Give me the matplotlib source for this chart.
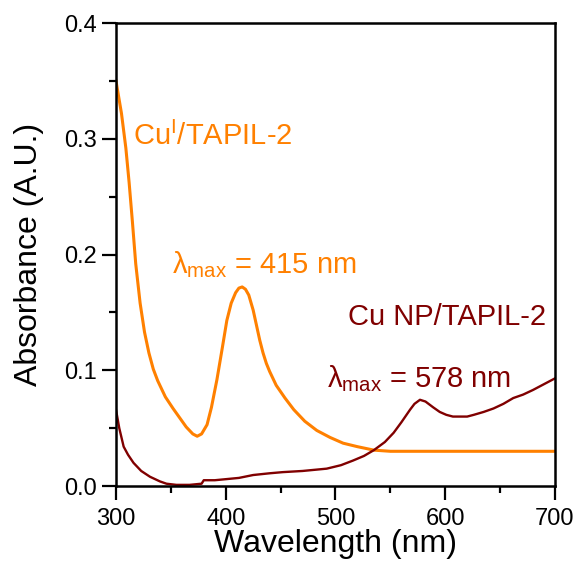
import matplotlib.pyplot as plt
from matplotlib.ticker import MultipleLocator

plt.rcParams['font.family'] = ['Liberation Sans', 'DejaVu Sans']
plt.rcParams['mathtext.fontset'] = 'custom'
plt.rcParams['mathtext.rm'] = 'Liberation Sans'

# Cu(I)/TAPIL-2 spectrum (orange)
wl_cu1 = [300, 305, 309, 312, 315, 318, 322, 326, 330, 334, 338, 345, 352, 358,
          364, 370, 374, 378, 383, 387, 392, 397, 401, 405, 409, 412, 415, 418,
          421, 425, 428, 431, 434, 437, 440, 446, 454, 462, 472, 483, 495, 507,
          520, 535, 550, 600, 650, 700]
abs_cu1 = [0.350, 0.322, 0.292, 0.262, 0.228, 0.192, 0.158, 0.133, 0.115, 0.101,
           0.091, 0.077, 0.067, 0.059, 0.051, 0.045, 0.043, 0.045, 0.053, 0.068,
           0.092, 0.120, 0.143, 0.158, 0.167, 0.171, 0.172, 0.170, 0.165, 0.152,
           0.139, 0.126, 0.115, 0.106, 0.099, 0.087, 0.076, 0.066, 0.056, 0.048,
           0.042, 0.037, 0.034, 0.031, 0.030, 0.030, 0.030, 0.030]

# Cu NP/TAPIL-2 spectrum (dark red)
wl_np = [300, 303, 307, 311, 316, 323, 331, 340, 346, 355, 367, 378, 380, 390,
         401, 412, 425, 440, 452, 470, 492, 505, 516, 526, 535, 545, 553, 560,
         568, 572, 577, 582, 589, 595, 601, 607, 613, 620, 626, 635, 644, 653,
         662, 671, 680, 690, 700]
abs_np = [0.066, 0.050, 0.034, 0.027, 0.020, 0.013, 0.008, 0.004, 0.002, 0.001,
          0.001, 0.002, 0.005, 0.005, 0.006, 0.007, 0.0095, 0.011, 0.012, 0.013,
          0.015, 0.018, 0.022, 0.026, 0.031, 0.038, 0.046, 0.055, 0.066, 0.071,
          0.0745, 0.073, 0.068, 0.064, 0.0615, 0.060, 0.060, 0.060, 0.0615, 0.064,
          0.067, 0.071, 0.076, 0.079, 0.083, 0.088, 0.093]

orange = '#ff8000'
maroon = '#800000'

fig = plt.figure(figsize=(5.79, 5.62), dpi=100)
ax = fig.add_axes([0.2003, 0.1352, 0.7582, 0.8238])

ax.plot(wl_cu1, abs_cu1, color=orange, lw=2.2)
ax.plot(wl_np, abs_np, color=maroon, lw=1.7)

ax.set_xlim(300, 700)
ax.set_ylim(0, 0.4)
ax.xaxis.set_major_locator(MultipleLocator(100))
ax.xaxis.set_minor_locator(MultipleLocator(50))
ax.yaxis.set_major_locator(MultipleLocator(0.1))
ax.yaxis.set_minor_locator(MultipleLocator(0.05))
ax.yaxis.set_major_formatter(plt.FormatStrFormatter('%.1f'))
ax.tick_params(which='major', direction='out', length=10, width=1.6, labelsize=17)
ax.tick_params(which='minor', direction='out', length=5, width=1.6)
ax.tick_params(axis='x', pad=6)
for s in ax.spines.values():
    s.set_linewidth(1.8)

ax.set_xlabel('Wavelength (nm)', fontsize=23, labelpad=-1)
ax.set_ylabel('Absorbance (A.U.)', fontsize=23, labelpad=15)

ax.text(315.5, 0.295, r'Cu$^{\mathregular{I}}$/TAPIL-2', color=orange,
        fontsize=21, va='baseline')
ax.text(351, 0.184, r'$\mathregular{\lambda_{max}}$ = 415 nm', color=orange,
        fontsize=21, va='baseline')
ax.text(511, 0.139, 'Cu NP/TAPIL-2', color=maroon, fontsize=21, va='baseline')
ax.text(492, 0.085, r'$\mathregular{\lambda_{max}}$ = 578 nm', color=maroon,
        fontsize=21, va='baseline')

fig.savefig('out.png', dpi=100)
